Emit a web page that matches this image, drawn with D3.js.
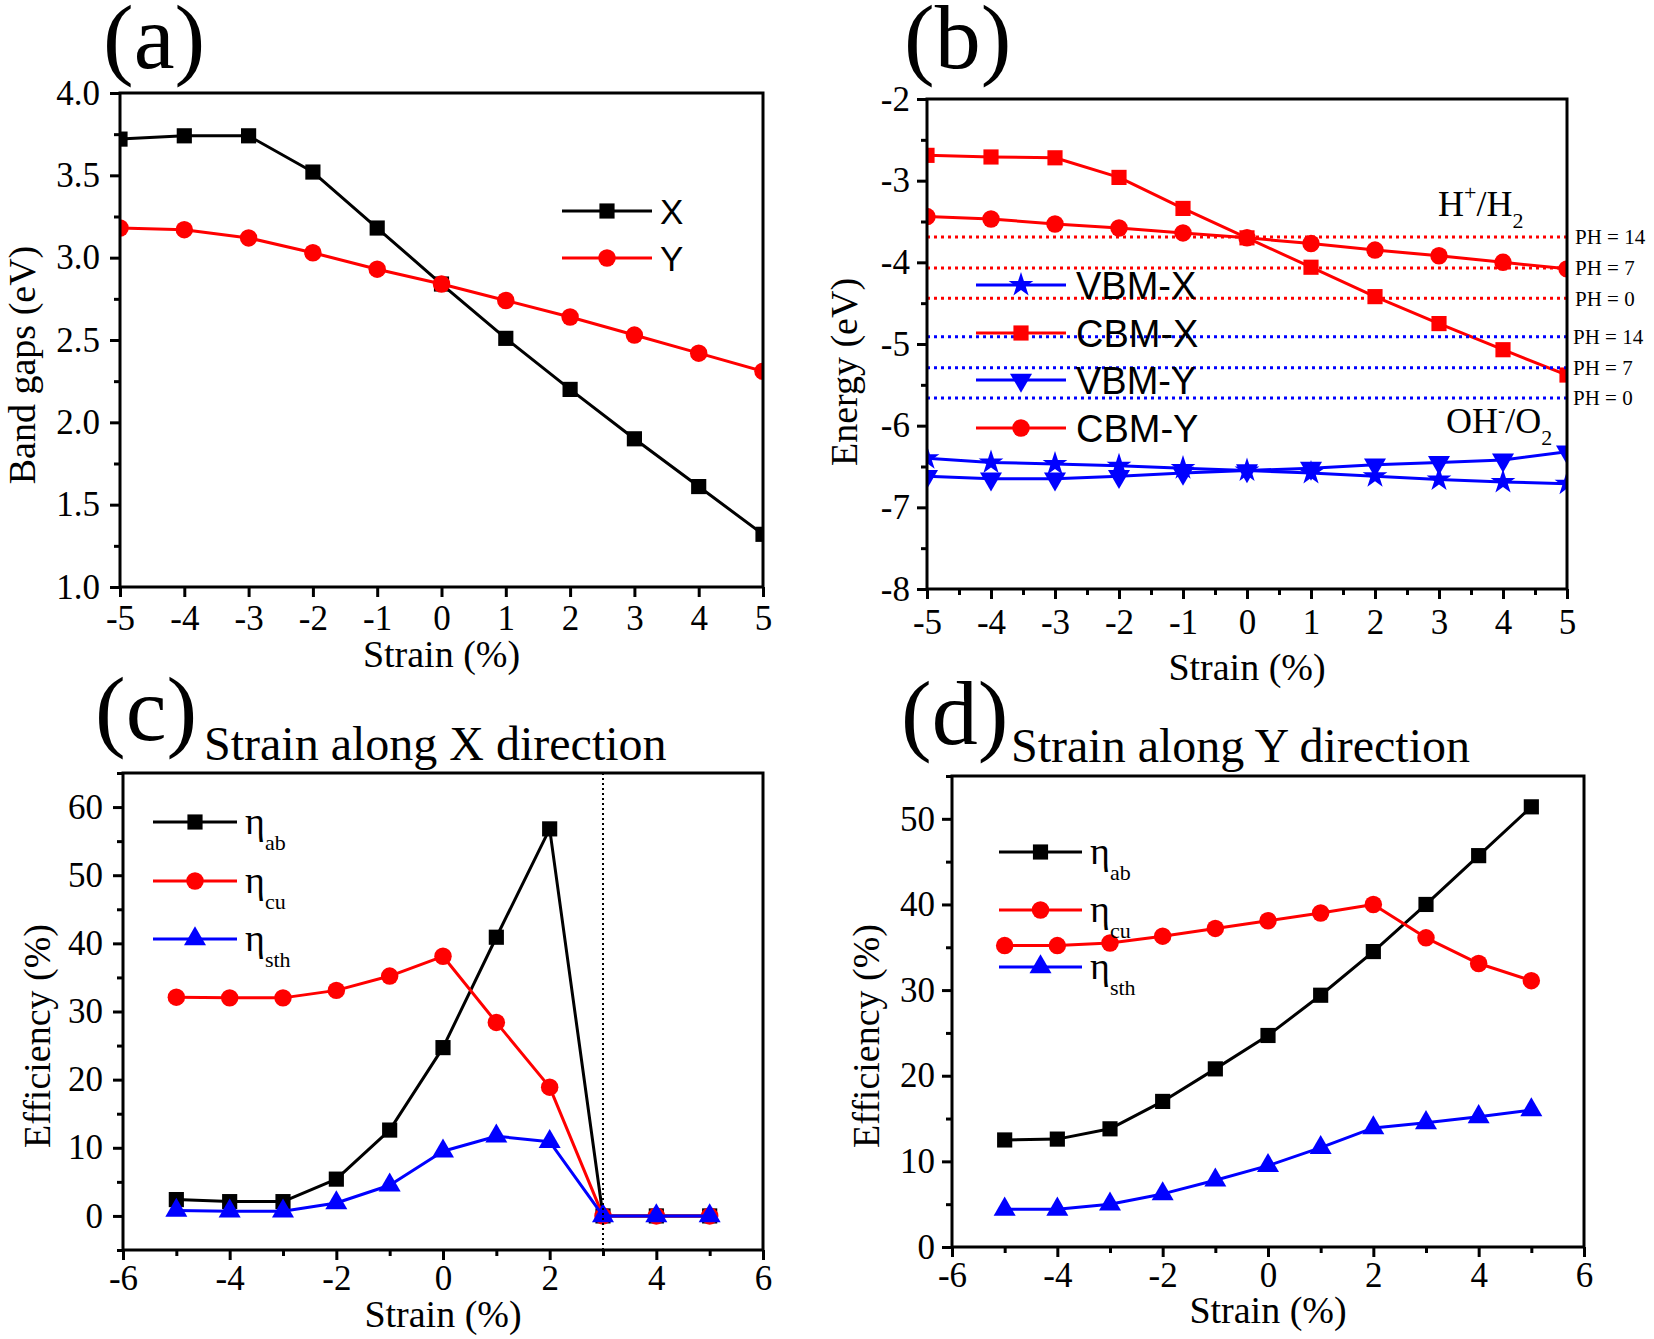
<!DOCTYPE html>
<html>
<head>
<meta charset="utf-8">
<script src="https://cdn.jsdelivr.net/npm/d3@7/dist/d3.min.js"></script>
<style>
  html, body { margin: 0; padding: 0; background: #fff; }
  svg { display: block; }
</style>
</head>
<body>
<svg id="chart" width="1654" height="1339"></svg>
<script>
// ---------------- DATA ----------------
const strainAB = [-5, -4, -3, -2, -1, 0, 1, 2, 3, 4, 5];

// (a) band gaps (eV)
const gapX = [3.72, 3.74, 3.74, 3.52, 3.18, 2.84, 2.51, 2.20, 1.90, 1.61, 1.32];
const gapY = [3.18, 3.17, 3.12, 3.03, 2.93, 2.84, 2.74, 2.64, 2.53, 2.42, 2.31];

// (b) band edges (eV)
const vbmX = [-6.40, -6.45, -6.47, -6.49, -6.52, -6.55, -6.58, -6.62, -6.66, -6.69, -6.71];
const cbmX = [-2.69, -2.71, -2.72, -2.96, -3.34, -3.70, -4.06, -4.42, -4.75, -5.07, -5.38];
const vbmY = [-6.62, -6.65, -6.65, -6.62, -6.58, -6.55, -6.52, -6.48, -6.45, -6.42, -6.32];
const cbmY = [-3.44, -3.47, -3.53, -3.58, -3.64, -3.70, -3.77, -3.85, -3.92, -4.00, -4.08];
const redLevels = [-3.69, -4.07, -4.44];   // H+/H2
const blueLevels = [-4.91, -5.29, -5.66];  // OH-/O2
const phLabels = ["PH = 14", "PH = 7", "PH = 0"];

// (c) strain along X (efficiency %)
const etaAbX  = [2.4, 2.1, 2.1, 5.4, 12.6, 24.7, 40.9, 56.8, 0, 0, 0];
const etaCuX  = [32.1, 32.0, 32.0, 33.1, 35.2, 38.1, 28.4, 18.9, 0, 0, 0];
const etaSthX = [0.8, 0.7, 0.7, 1.9, 4.5, 9.5, 11.7, 10.9, 0, 0, 0];

// (d) strain along Y (efficiency %)
const etaAbY  = [12.5, 12.6, 13.8, 17.0, 20.8, 24.7, 29.4, 34.5, 40.0, 45.7, 51.4];
const etaCuY  = [35.2, 35.2, 35.5, 36.3, 37.2, 38.1, 39.0, 40.0, 36.1, 33.1, 31.1];
const etaSthY = [4.4, 4.4, 5.0, 6.2, 7.8, 9.5, 11.6, 13.9, 14.5, 15.2, 16.0];

// ticks
const ticksAX = [-5, -4, -3, -2, -1, 0, 1, 2, 3, 4, 5];
const ticksAY = [1.0, 1.5, 2.0, 2.5, 3.0, 3.5, 4.0];
const minorAY = [1.25, 1.75, 2.25, 2.75, 3.25, 3.75];
const ticksBY = [-8, -7, -6, -5, -4, -3, -2];
const minorBY = [-7.5, -6.5, -5.5, -4.5, -3.5, -2.5];
const minorBX = [-4.5, -3.5, -2.5, -1.5, -0.5, 0.5, 1.5, 2.5, 3.5, 4.5];
const ticksCDX = [-6, -4, -2, 0, 2, 4, 6];
const minorCDX = [-5, -3, -1, 1, 3, 5];
const ticksCY = [0, 10, 20, 30, 40, 50, 60];
const minorCY = [-5, 5, 15, 25, 35, 45, 55, 65];
const ticksDY = [0, 10, 20, 30, 40, 50];
const minorDY = [5, 15, 25, 35, 45, 55];

// ---------------- DRAW ----------------
const svg = d3.select("#chart");
const SERIF = "'Liberation Serif', 'Times New Roman', serif";
const SANS = "'Liberation Sans', Arial, sans-serif";
const BLACK = "#000000", RED = "#ff0000", BLUE = "#0000ff";

const sym = {
  square: d3.symbol().type(d3.symbolSquare).size(230),
  circle: d3.symbol().type(d3.symbolCircle).size(240),
  triangle: d3.symbol().type(d3.symbolTriangle).size(210),
  star: d3.symbol().type(d3.symbolStar).size(190)
};

function fmtMinus(d, dec) {
  return dec ? d.toFixed(dec) : String(d);
}

function panel(cfg) {
  const g = svg.append("g");
  const x = d3.scaleLinear().domain(cfg.xDomain).range([cfg.left, cfg.right]);
  const y = d3.scaleLinear().domain(cfg.yDomain).range([cfg.bottom, cfg.top]);
  const id = "clip" + cfg.name;
  svg.append("clipPath").attr("id", id).append("rect")
    .attr("x", cfg.left).attr("y", cfg.top)
    .attr("width", cfg.right - cfg.left).attr("height", cfg.bottom - cfg.top);

  const xa = g.append("g").attr("transform", `translate(0,${cfg.bottom})`)
    .call(d3.axisBottom(x).tickValues(cfg.xTicks).tickSize(10).tickSizeOuter(0)
      .tickFormat(d => fmtMinus(d, 0)));
  xa.select(".domain").remove();
  xa.selectAll(".tick line").attr("stroke", BLACK).attr("stroke-width", 3);
  xa.selectAll(".tick text").attr("font-family", SERIF).attr("font-size", 35)
    .attr("fill", BLACK).attr("y", cfg.xLabelOff).attr("dy", null);
  if (cfg.xMinor) {
    const xm = g.append("g").attr("transform", `translate(0,${cfg.bottom})`)
      .call(d3.axisBottom(x).tickValues(cfg.xMinor).tickSize(6).tickFormat(""));
    xm.select(".domain").remove();
    xm.selectAll(".tick line").attr("stroke", BLACK).attr("stroke-width", 3);
  }
  const ya = g.append("g").attr("transform", `translate(${cfg.left},0)`)
    .call(d3.axisLeft(y).tickValues(cfg.yTicks).tickSize(10).tickSizeOuter(0)
      .tickFormat(d => fmtMinus(d, cfg.yDec)));
  ya.select(".domain").remove();
  ya.selectAll(".tick line").attr("stroke", BLACK).attr("stroke-width", 3);
  ya.selectAll(".tick text").attr("font-family", SERIF).attr("font-size", 35)
    .attr("fill", BLACK).attr("x", cfg.yLabelOff).attr("dy", "0.32em");
  if (cfg.yMinor) {
    const ym = g.append("g").attr("transform", `translate(${cfg.left},0)`)
      .call(d3.axisLeft(y).tickValues(cfg.yMinor).tickSize(6).tickFormat(""));
    ym.select(".domain").remove();
    ym.selectAll(".tick line").attr("stroke", BLACK).attr("stroke-width", 3);
  }

  const plot = g.append("g");
  if (cfg.clip) plot.attr("clip-path", `url(#${id})`);

  if (cfg.extra) cfg.extra(plot, x, y, g);

  cfg.series.forEach(s => {
    const pts = cfg.xs.map((xv, i) => [xv, s.values[i]]);
    plot.append("path").datum(pts)
      .attr("fill", "none").attr("stroke", s.color).attr("stroke-width", 3)
      .attr("stroke-linejoin", "round")
      .attr("d", d3.line().x(d => x(d[0])).y(d => y(d[1])));
    plot.selectAll(null).data(pts).enter().append("path")
      .attr("d", sym[s.marker])
      .attr("fill", s.color)
      .attr("transform", d => `translate(${x(d[0])},${y(d[1])})${s.flip ? " rotate(180)" : ""}`);
  });

  g.append("rect").attr("x", cfg.left).attr("y", cfg.top)
    .attr("width", cfg.right - cfg.left).attr("height", cfg.bottom - cfg.top)
    .attr("fill", "none").attr("stroke", BLACK).attr("stroke-width", 3);

  g.append("text").attr("x", (cfg.left + cfg.right) / 2).attr("y", cfg.xTitleY)
    .attr("text-anchor", "middle").attr("font-family", SERIF).attr("font-size", 38)
    .text("Strain (%)");
  g.append("text")
    .attr("transform", `translate(${cfg.yTitleX},${cfg.yTitleCY}) rotate(-90)`)
    .attr("text-anchor", "middle").attr("dy", "0.35em")
    .attr("font-family", SERIF).attr("font-size", 38)
    .text(cfg.yTitle);

  g.append("text").attr("x", cfg.labelX).attr("y", cfg.labelY)
    .attr("font-family", SERIF).attr("font-size", 92).text(cfg.label);
  if (cfg.title) {
    g.append("text").attr("x", cfg.titleX).attr("y", cfg.titleY)
      .attr("font-family", SERIF).attr("font-size", 48).text(cfg.title);
  }

  cfg.legend.items.forEach((it, i) => {
    const ly = cfg.legend.ys[i];
    g.append("line").attr("x1", cfg.legend.x1).attr("x2", cfg.legend.x2)
      .attr("y1", ly).attr("y2", ly).attr("stroke", it.color).attr("stroke-width", 3);
    g.append("path").attr("d", sym[it.marker]).attr("fill", it.color)
      .attr("transform", `translate(${(cfg.legend.x1 + cfg.legend.x2) / 2},${ly})${it.flip ? " rotate(180)" : ""}`);
    if (it.sub) {
      const t = g.append("text").attr("x", cfg.legend.tx).attr("y", ly + 12)
        .attr("font-family", SERIF).attr("font-size", 38);
      t.append("tspan").text("η");
      t.append("tspan").attr("font-size", 22).attr("dy", 16).text(it.sub);
    } else {
      g.append("text").attr("x", cfg.legend.tx).attr("y", ly).attr("dy", "0.36em")
        .attr("font-family", SANS).attr("font-size", cfg.legend.fs).text(it.label);
    }
  });
  return { x, y };
}

// (a)
panel({
  name: "a", left: 120, right: 763, top: 93, bottom: 587,
  xDomain: [-5, 5], yDomain: [1, 4],
  xTicks: ticksAX, xMinor: null, yTicks: ticksAY, yMinor: minorAY, yDec: 1,
  xLabelOff: 43, yLabelOff: -20,
  xTitleY: 667, yTitleX: 22, yTitleCY: 365, yTitle: "Band gaps (eV)",
  label: "(a)", labelX: 103, labelY: 68, clip: true,
  xs: strainAB,
  series: [
    { values: gapX, color: BLACK, marker: "square" },
    { values: gapY, color: RED, marker: "circle" }
  ],
  legend: { x1: 562, x2: 652, tx: 660, fs: 35, ys: [211, 258],
    items: [{ label: "X", color: BLACK, marker: "square" }, { label: "Y", color: RED, marker: "circle" }] }
});

// (b)
panel({
  name: "b", left: 927, right: 1567, top: 99, bottom: 589,
  xDomain: [-5, 5], yDomain: [-8, -2],
  xTicks: ticksAX, xMinor: minorBX, yTicks: ticksBY, yMinor: minorBY, yDec: 0,
  xLabelOff: 45, yLabelOff: -17,
  xTitleY: 680, yTitleX: 844, yTitleCY: 372, yTitle: "Energy (eV)",
  label: "(b)", labelX: 904, labelY: 68, clip: true,
  xs: strainAB,
  extra: (plot, x, y, g) => {
    redLevels.forEach((v, i) => {
      g.append("line").attr("x1", x(-5)).attr("x2", x(5)).attr("y1", y(v)).attr("y2", y(v))
        .attr("stroke", RED).attr("stroke-width", 3).attr("stroke-dasharray", "3,4");
      g.append("text").attr("x", 1575).attr("y", y(v)).attr("dy", "0.35em")
        .attr("font-family", SERIF).attr("font-size", 21).text(phLabels[i]);
    });
    blueLevels.forEach((v, i) => {
      g.append("line").attr("x1", x(-5)).attr("x2", x(5)).attr("y1", y(v)).attr("y2", y(v))
        .attr("stroke", BLUE).attr("stroke-width", 3).attr("stroke-dasharray", "3,4");
      g.append("text").attr("x", 1573).attr("y", y(v)).attr("dy", "0.35em")
        .attr("font-family", SERIF).attr("font-size", 21).text(phLabels[i]);
    });
    const t1 = g.append("text").attr("x", 1438).attr("y", 216)
      .attr("font-family", SERIF).attr("font-size", 36);
    t1.append("tspan").text("H");
    t1.append("tspan").attr("font-size", 22).attr("dy", -16).text("+");
    t1.append("tspan").attr("dy", 16).text("/H");
    t1.append("tspan").attr("font-size", 22).attr("dy", 12).text("2");
    const t2 = g.append("text").attr("x", 1446).attr("y", 433)
      .attr("font-family", SERIF).attr("font-size", 36);
    t2.append("tspan").text("OH");
    t2.append("tspan").attr("font-size", 22).attr("dy", -16).text("-");
    t2.append("tspan").attr("dy", 16).text("/O");
    t2.append("tspan").attr("font-size", 22).attr("dy", 12).text("2");
  },
  series: [
    { values: vbmX, color: BLUE, marker: "star" },
    { values: vbmY, color: BLUE, marker: "triangle", flip: true },
    { values: cbmX, color: RED, marker: "square" },
    { values: cbmY, color: RED, marker: "circle" }
  ],
  legend: { x1: 976, x2: 1066, tx: 1076, fs: 38, ys: [285, 333, 380, 428],
    items: [
      { label: "VBM-X", color: BLUE, marker: "star" },
      { label: "CBM-X", color: RED, marker: "square" },
      { label: "VBM-Y", color: BLUE, marker: "triangle", flip: true },
      { label: "CBM-Y", color: RED, marker: "circle" }
    ] }
});

// (c)
panel({
  name: "c", left: 123, right: 763, top: 773, bottom: 1250,
  xDomain: [-6, 6], yDomain: [-5, 65],
  xTicks: ticksCDX, xMinor: minorCDX, yTicks: ticksCY, yMinor: minorCY, yDec: 0,
  xLabelOff: 40, yLabelOff: -20,
  xTitleY: 1327, yTitleX: 37, yTitleCY: 1036, yTitle: "Efficiency (%)",
  label: "(c)", labelX: 95, labelY: 740, clip: false,
  title: "Strain along X direction", titleX: 204, titleY: 760,
  xs: strainAB,
  extra: (plot, x, y, g) => {
    g.append("line").attr("x1", x(3)).attr("x2", x(3)).attr("y1", 773).attr("y2", 1250)
      .attr("stroke", BLACK).attr("stroke-width", 2).attr("stroke-dasharray", "2,3");
  },
  series: [
    { values: etaAbX, color: BLACK, marker: "square" },
    { values: etaCuX, color: RED, marker: "circle" },
    { values: etaSthX, color: BLUE, marker: "triangle" }
  ],
  legend: { x1: 153, x2: 237, tx: 245, ys: [822, 881, 939],
    items: [
      { sub: "ab", color: BLACK, marker: "square" },
      { sub: "cu", color: RED, marker: "circle" },
      { sub: "sth", color: BLUE, marker: "triangle" }
    ] }
});

// (d)
panel({
  name: "d", left: 952, right: 1584, top: 776, bottom: 1247,
  xDomain: [-6, 6], yDomain: [0, 55],
  xTicks: ticksCDX, xMinor: minorCDX, yTicks: ticksDY, yMinor: minorDY, yDec: 0,
  xLabelOff: 40, yLabelOff: -17,
  xTitleY: 1323, yTitleX: 866, yTitleCY: 1036, yTitle: "Efficiency (%)",
  label: "(d)", labelX: 901, labelY: 744, clip: false,
  title: "Strain along Y direction", titleX: 1011, titleY: 762,
  xs: strainAB,
  series: [
    { values: etaAbY, color: BLACK, marker: "square" },
    { values: etaCuY, color: RED, marker: "circle" },
    { values: etaSthY, color: BLUE, marker: "triangle" }
  ],
  legend: { x1: 999, x2: 1082, tx: 1090, ys: [852, 910, 967],
    items: [
      { sub: "ab", color: BLACK, marker: "square" },
      { sub: "cu", color: RED, marker: "circle" },
      { sub: "sth", color: BLUE, marker: "triangle" }
    ] }
});
</script>
</body>
</html>
